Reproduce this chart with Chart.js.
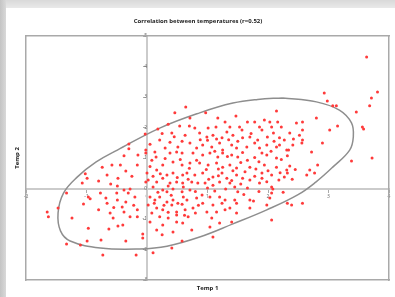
<!DOCTYPE html>
<html>
<head>
<meta charset="utf-8">
<script src="https://cdn.jsdelivr.net/npm/chart.js@4"></script>
<style>
  html, body { margin: 0; padding: 0; background: #fff; }
  #wrap { position: relative; width: 395px; height: 297px; background: #fff; overflow: hidden; }
  #topband { position: absolute; left: 0; top: 0; width: 395px; height: 8px; background: linear-gradient(#d9d9d9, #e9e9e9); }
  #leftband { position: absolute; left: 0; top: 0; width: 6px; height: 297px; background: linear-gradient(90deg, #c4c4c4, #d9d9d9); }
  canvas { position: absolute; left: 0; top: 0; }
</style>
</head>
<body>
<div id="wrap">
  <div id="topband"></div>
  <div id="leftband"></div>
  <canvas id="chart" width="395" height="297"></canvas>
</div>
<script>
/* ===== DATA ===== */
const titleText = 'Correlation between temperatures (r=0.52)';
const xTitle = 'Temp 1';
const yTitle = 'Temp 2';
const xMin = -2, xMax = 4;
const yMin = -3, yMax = 5;

// [temp1, temp2] pairs
const pointsLeft = [
  [-0.38,1.07],[-0.15,1.10],[-0.74,0.70],[-0.58,0.77],[-0.44,0.77],[-0.35,0.57],[-1.02,0.48],[-0.99,0.34],
  [-0.66,0.44],[-0.48,0.34],[-0.16,0.77],[-0.02,0.21],[-1.07,0.18],[-0.77,-0.15],[-0.49,0.08],[-0.38,-0.05],
  [-0.28,-0.02],[-0.31,-0.15],[-1.33,-0.15],[-0.97,-0.28],[-0.94,-0.34],[-0.68,-0.31],[-0.49,-0.38],[-0.35,-0.44],
  [-0.20,-0.28],[-1.05,-0.51],[-0.66,-0.48],[-0.41,-0.61],[-1.65,-0.77],[-1.63,-0.93],[-1.47,-0.64],[-0.61,-0.80],
  [-0.38,-0.77],[-0.28,-0.93],[-0.16,-0.70],[-0.16,-0.93],[-1.24,-0.97],[-0.56,-0.97],[-0.48,-1.23],[-0.40,-1.20],
  [-0.97,-1.30],[-0.63,-1.33],[-0.07,-1.49],[-0.07,-1.62],[-0.99,-1.72],[-0.76,-1.69],[-0.35,-1.72],[-1.33,-1.82],
  [-1.10,-1.85],[-0.73,-2.18],[-0.18,-2.18],[0.10,-2.11],
  [0.18,1.95],[-0.03,1.79],[-0.30,1.46],[-0.02,1.26],[-0.02,1.16],[0.15,1.03],
  [-0.25,0.40],[-0.60,0.15],[-0.80,0.25],[-0.50,-0.15],[-0.22,-0.55],[-0.55,-0.62],[-0.80,-0.70],[-0.30,1.30]
];
const pointsCore = [
  [0.13,1.20],[0.38,1.16],[0.49,1.20],[0.58,1.16],[0.76,1.16],[0.08,0.93],[0.26,0.77],[0.43,0.87],
  [0.58,0.77],[0.71,0.84],[0.82,0.93],[0.00,0.51],[0.16,0.61],[0.33,0.44],[0.43,0.51],[0.59,0.44],
  [0.66,0.51],[0.79,0.44],[0.02,0.28],[0.16,0.21],[0.26,0.34],[0.38,0.18],[0.49,0.21],[0.59,0.18],
  [0.74,0.21],[0.84,0.18],[0.10,0.05],[0.26,-0.05],[0.33,-0.11],[0.43,-0.02],[0.58,-0.11],[0.71,-0.05],
  [0.05,-0.28],[0.13,-0.38],[0.21,-0.28],[0.33,-0.44],[0.43,-0.38],[0.51,-0.48],[0.66,-0.38],[0.82,-0.31],
  [0.02,-0.54],[0.16,-0.64],[0.26,-0.70],[0.41,-0.54],[0.49,-0.77],[0.63,-0.70],[0.76,-0.64],[0.08,-0.80],
  [0.21,-0.93],[0.35,-0.97],[0.49,-0.87],[0.68,-0.93],[0.05,-1.10],[0.26,-1.20],[0.49,-1.10],[0.59,-1.13],
  [0.16,-1.36],[0.25,-1.52],[0.43,-1.43],[0.74,-1.36],[0.58,-1.72],[0.41,-1.95],
  [0.64,2.67],[0.46,2.48],[0.71,2.31],[0.35,2.11],[0.54,2.05],[0.79,1.98],[0.41,1.82],[0.63,1.75],
  [0.21,1.59],[0.38,1.52],[0.71,1.49],[0.51,1.36],[0.82,1.33],[0.30,1.33],
  [0.05,0.72],[0.30,0.98],[0.55,0.95],[0.70,0.66],[0.22,0.48],[0.50,0.36],[0.68,0.30],[0.10,0.40],
  [0.35,0.08],[0.60,0.05],[0.80,-0.10],[0.18,-0.12],[0.40,-0.22],[0.60,-0.28],[0.28,-0.55],[0.58,-0.52],
  [0.85,-0.55],[0.12,-0.48],[0.35,-0.78],[0.62,-0.88],[0.80,-0.80],
  [0.05,1.45],[0.58,1.55],[0.88,1.60],[0.45,1.70],[0.70,2.05],[0.25,1.80]
];
const pointsRightLow = [
  [0.92,1.10],[1.04,1.16],[1.17,1.03],[1.25,1.16],[1.40,1.10],[1.50,1.03],[1.66,0.93],[1.90,1.16],
  [1.98,1.10],[2.14,1.00],[2.32,1.07],[2.34,1.26],[2.72,1.20],[3.72,1.00],[3.38,0.90],[0.87,0.84],
  [1.01,0.77],[1.15,0.84],[1.25,0.70],[1.37,0.77],[1.48,0.67],[1.70,0.70],[1.94,0.77],[2.14,0.70],
  [2.36,0.74],[2.31,0.61],[2.82,0.77],[2.69,0.61],[2.64,0.44],[2.77,0.51],[0.92,0.51],[1.09,0.38],
  [1.24,0.51],[1.32,0.34],[1.48,0.44],[1.58,0.34],[1.70,0.28],[1.90,0.51],[2.06,0.44],[2.27,0.38],
  [2.32,0.51],[0.96,0.18],[1.09,0.11],[1.20,0.21],[1.37,0.18],[1.45,0.05],[1.66,0.02],[1.86,0.18],
  [1.90,0.34],[2.06,0.05],[2.08,-0.02],[0.91,-0.21],[1.04,-0.28],[1.20,-0.28],[1.29,-0.38],[1.45,-0.38],
  [1.50,-0.11],[1.70,-0.38],[1.76,-0.41],[2.03,-0.31],[2.06,-0.15],[0.92,-0.48],[1.09,-0.54],[1.24,-0.48],
  [1.37,-0.64],[1.48,-0.48],[1.98,-0.54],[2.32,-0.48],[2.39,-0.54],[2.57,-0.48],[0.99,-0.77],[1.15,-0.77],
  [1.29,-0.70],[1.48,-0.80],[1.70,-0.64],[1.07,-0.97],[1.20,-1.13],[1.40,-1.10],[2.06,-1.03],[1.04,-1.26],
  [1.09,-1.59],
  [1.12,1.22],[1.33,1.05],[1.58,1.18],[1.78,1.02],[2.05,1.22],[2.22,0.95],[1.85,0.88],[1.55,0.85],
  [0.98,0.62],[1.18,0.64],[1.42,0.58],[1.62,0.55],[1.80,0.64],[2.00,0.58],[2.20,0.52],[2.45,0.62],
  [1.02,0.30],[1.18,0.42],[1.40,0.26],[1.55,0.15],[1.78,0.40],[1.98,0.22],[2.18,0.28],[2.40,0.30],
  [1.12,-0.08],[1.30,-0.02],[1.60,-0.20],[1.85,-0.10],[2.25,-0.12],[1.00,0.02]
];
const pointsRightHigh = [
  [3.63,4.31],[3.81,3.16],[3.71,2.97],[3.68,2.71],[2.93,3.13],[2.98,2.87],[3.07,2.71],[3.13,2.71],
  [3.46,2.51],[2.14,2.54],[2.80,2.31],[1.47,2.38],[0.97,2.48],[3.56,2.02],[3.58,1.95],[3.15,2.05],
  [3.02,1.92],[2.90,1.49],[1.17,2.31],[1.29,2.18],[1.01,1.98],[1.14,2.02],[1.37,2.02],[1.53,2.02],
  [1.57,1.92],[1.66,2.18],[1.78,2.18],[1.86,2.02],[1.94,2.25],[2.03,2.18],[2.06,2.02],[2.16,2.18],
  [2.22,2.02],[2.47,2.15],[2.57,2.18],[2.57,1.92],[2.36,1.82],[2.09,1.82],[0.87,1.82],[0.99,1.69],
  [1.09,1.75],[1.24,1.66],[1.32,1.85],[1.42,1.75],[1.58,1.66],[1.70,1.69],[1.83,1.59],[1.99,1.69],
  [2.19,1.66],[2.27,1.59],[2.52,1.75],[0.92,1.43],[1.07,1.36],[1.20,1.49],[1.25,1.26],[1.40,1.43],
  [1.48,1.33],[1.65,1.36],[1.78,1.49],[1.86,1.33],[1.98,1.43],[2.14,1.36],[2.31,1.26],[2.41,1.43],
  [2.56,1.49],[2.57,1.59],[2.19,1.43],
  [1.00,1.58],[1.15,1.62],[1.50,1.55],[1.72,1.80],[1.90,1.92],[2.10,1.55],[2.42,1.62],[1.35,1.60]
];
// outline of the drawn ellipse, traced round from its top
const ellipseTrace = [
  [2.24,2.97],[2.80,2.84],[3.18,2.57],[3.38,2.15],[3.41,1.69],[3.35,1.26],[3.07,0.70],[2.79,0.21],
  [2.49,-0.21],[1.98,-0.70],[1.42,-1.16],[0.87,-1.59],[0.33,-1.89],[-0.12,-1.98],[-0.77,-1.95],[-1.27,-1.72],
  [-1.43,-1.39],[-1.47,-0.80],[-1.38,-0.15],[-1.15,0.38],[-0.84,0.87],[-0.49,1.26],[0.21,1.98],[0.87,2.48],
  [1.42,2.80],[1.83,2.92],[2.24,2.97]
];

/* ===== CHART ===== */
const toXY = arr => arr.map(p => ({ x: p[0], y: p[1] }));
const allPoints = [].concat(pointsLeft, pointsCore, pointsRightLow, pointsRightHigh);
const tickFont = { family: "'Open Sans', sans-serif", size: 5 };
const titleFont = { family: "'Open Sans', sans-serif", size: 6, weight: 'bold' };
const frame = { display: true, color: '#a9a9a9', width: 1.5 };

function frameScale(axis, position, min, max, title) {
  const s = {
    type: 'linear', axis, position, min, max,
    ticks: { display: false },
    grid: { display: false, drawTicks: false },
    border: frame
  };
  if (title) s.title = title;
  return s;
}

new Chart(document.getElementById('chart'), {
  type: 'scatter',
  data: {
    datasets: [
      { label: 'ellipse', data: toXY(ellipseTrace), showLine: true, tension: 0.4, pointRadius: 0,
        borderColor: '#8e8e8e', borderWidth: 1.5, fill: false, order: 2 },
      { label: 'temps', data: toXY(allPoints), pointRadius: 1.5, pointBorderWidth: 0,
        backgroundColor: '#ff3a3a', borderColor: '#ff3a3a', order: 1 }
    ]
  },
  options: {
    responsive: false, animation: false,
    layout: { padding: { top: 10, left: 7, right: 6, bottom: 4.4 } },
    plugins: {
      legend: { display: false }, tooltip: { enabled: false },
      title: { display: true, text: titleText, font: titleFont, color: '#222', padding: { top: 7.4, bottom: 11.4 } }
    },
    scales: {
      x: { type: 'linear', min: xMin, max: xMax, position: { y: 0 },
           ticks: { stepSize: 1, font: tickFont, color: '#666', padding: 2, maxRotation: 0 },
           grid: { drawOnChartArea: false, tickLength: 3, color: '#aaa' },
           border: { color: '#cbcbcb', width: 2 } },
      y: { type: 'linear', min: yMin, max: yMax, position: { x: 0 },
           ticks: { stepSize: 1, font: tickFont, color: '#666', padding: 2 },
           grid: { drawOnChartArea: false, tickLength: 3, color: '#aaa' },
           border: { color: '#cbcbcb', width: 2 } },
      xb: frameScale('x', 'bottom', xMin, xMax,
           { display: true, text: xTitle, font: titleFont, color: '#222', padding: { top: 4.4, bottom: 1 } }),
      xt: frameScale('x', 'top', xMin, xMax),
      yl: frameScale('y', 'left', yMin, yMax,
           { display: true, text: yTitle, font: titleFont, color: '#222', padding: { top: 6.4, bottom: 5.4 } }),
      yr: frameScale('y', 'right', yMin, yMax)
    }
  }
});
</script>
</body>
</html>
